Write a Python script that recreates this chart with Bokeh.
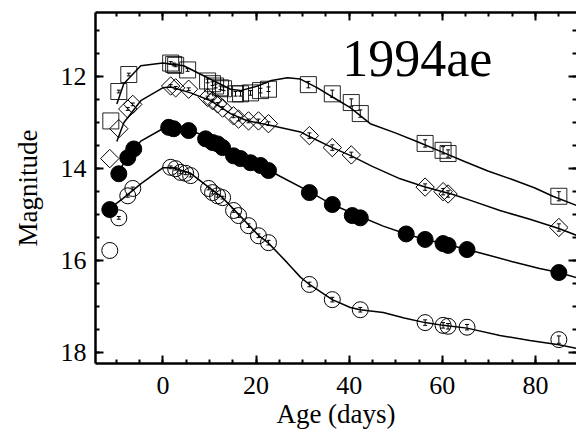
import numpy as np
from bokeh.plotting import figure
from bokeh.models import (Range1d, LinearAxis, SingleIntervalTicker, Label,
                          Whisker, ColumnDataSource, TeeHead)
from bokeh.embed import file_html
from bokeh.resources import INLINE

# ---------------- data ----------------
sq_age = [-11.21, -9.49, -7.35, 1.65, 2.29, 2.72, 5.29, 9.58, 10.65, 11.30, 12.37, 13.01,
          15.58, 16.66, 18.80, 20.94, 22.66, 31.23, 36.37, 40.45, 42.38, 56.31, 60.17, 61.24, 85.04]
sq_mag = [12.96, 12.32, 11.95, 11.70, 11.73, 11.75, 11.85, 12.09, 12.15, 12.20, 12.24, 12.26,
          12.37, 12.37, 12.35, 12.30, 12.27, 12.17, 12.37, 12.56, 12.80, 13.45, 13.60, 13.67, 14.60]
sq_err = [0.0, 0.03, 0.03, 0.03, 0.03, 0.03, 0.03, 0.04, 0.04, 0.04, 0.04, 0.04,
          0.05, 0.05, 0.05, 0.05, 0.05, 0.07, 0.08, 0.08, 0.08, 0.08, 0.08, 0.08, 0.10]

di_age = [-11.43, -9.49, -7.57, -6.49, 1.65, 2.72, 5.51, 9.58, 10.65, 11.73, 12.80, 15.16,
          16.23, 18.37, 20.51, 22.66, 31.45, 36.37, 40.45, 56.31, 60.17, 61.24, 85.04]
di_mag = [13.78, 13.13, 12.70, 12.60, 12.20, 12.24, 12.27, 12.45, 12.52, 12.59, 12.68, 12.85,
          12.92, 12.96, 12.96, 13.02, 13.28, 13.54, 13.70, 14.40, 14.50, 14.55, 15.28]
di_err = [0.0, 0.0, 0.03, 0.03, 0.03, 0.03, 0.03, 0.03, 0.03, 0.03, 0.03, 0.04,
          0.04, 0.04, 0.04, 0.04, 0.06, 0.06, 0.06, 0.07, 0.07, 0.07, 0.08]

fc_age = [-11.43, -9.49, -7.57, -6.28, 1.22, 2.29, 5.51, 9.15, 10.65, 11.73, 12.80, 15.16,
          16.66, 18.80, 20.94, 22.66, 31.45, 36.37, 40.66, 42.38, 52.24, 56.31, 60.17, 61.24,
          65.31, 85.04]
fc_mag = [14.89, 14.11, 13.76, 13.57, 13.10, 13.13, 13.17, 13.35, 13.43, 13.46, 13.54, 13.72,
          13.78, 13.87, 13.93, 14.04, 14.52, 14.78, 15.02, 15.07, 15.42, 15.54, 15.63, 15.67,
          15.76, 16.26]

oc_age = [-11.43, -9.49, -7.57, -6.49, 1.65, 2.72, 3.79, 4.87, 5.94, 9.80, 10.65, 11.73,
          12.80, 15.16, 16.23, 18.37, 20.51, 22.66, 31.45, 36.37, 42.38, 56.31, 60.17, 61.24,
          65.31, 85.04]
oc_mag = [15.78, 15.07, 14.59, 14.43, 13.97, 14.00, 14.08, 14.10, 14.15, 14.43, 14.52, 14.59,
          14.63, 14.91, 15.02, 15.24, 15.46, 15.61, 16.52, 16.85, 17.07, 17.35, 17.41, 17.43,
          17.45, 17.72]
oc_err = [0.0, 0.03, 0.03, 0.03, 0.03, 0.03, 0.03, 0.03, 0.03, 0.03, 0.03, 0.03,
          0.03, 0.04, 0.04, 0.04, 0.04, 0.05, 0.05, 0.05, 0.05, 0.06, 0.06, 0.06,
          0.06, 0.08]

# template fit curves
sq_fit_age = [-9.92, -8.42, -4.78, -0.06, 4.44, 9.58, 14.51, 16.66, 20.3, 23.3, 26.73, 29.52,
              33.16, 36.59, 40.23, 44.52, 49.9, 54.8, 60.0, 64.9, 69.8, 74.9, 79.9, 83.75, 88.83]
sq_fit_mag = [12.59, 12.15, 11.76, 11.70, 11.76, 12.02, 12.27, 12.30, 12.20, 12.08, 12.02, 12.05,
              12.24, 12.45, 12.67, 13.02, 13.22, 13.42, 13.64, 13.85, 14.05, 14.23, 14.42, 14.60, 14.80]

di_fit_age = [-9.92, -8.42, -4.78, -0.06, 1.65, 5.94, 10.22, 14.51, 17.94, 23.73, 29.52, 31.45,
              36.37, 40.45, 44.95, 50.95, 56.31, 62.31, 66.38, 72.39, 78.82, 85.04, 88.83]
di_fit_mag = [13.41, 13.00, 12.52, 12.24, 12.22, 12.35, 12.52, 12.80, 12.95, 13.07, 13.20, 13.30,
              13.54, 13.72, 13.95, 14.22, 14.40, 14.56, 14.70, 14.91, 15.10, 15.30, 15.45]

fc_fit_age = [-9.92, -7.57, -4.78, -0.06, 3.79, 8.08, 12.80, 16.66, 20.94, 25.23, 31.45, 36.37,
              42.38, 47.31, 52.24, 56.31, 60.17, 65.31, 69.8, 74.9, 80.9, 85.04, 88.83]
fc_fit_mag = [14.15, 13.72, 13.40, 13.13, 13.10, 13.25, 13.52, 13.78, 13.93, 14.17, 14.50, 14.78,
              15.04, 15.25, 15.42, 15.54, 15.63, 15.76, 15.88, 16.02, 16.17, 16.26, 16.37]

oc_fit_age = [-10.35, -8.64, -4.78, -0.06, 2.08, 5.94, 9.15, 12.80, 15.16, 18.37, 20.51, 22.66,
              26.73, 29.52, 31.45, 36.37, 40.23, 42.38, 47.31, 51.81, 56.31, 60.17, 65.31,
              72.39, 78.82, 85.04, 88.83]
oc_fit_mag = [14.78, 14.65, 14.33, 13.98, 13.98, 14.10, 14.35, 14.63, 14.88, 15.22, 15.45, 15.62,
              16.05, 16.36, 16.52, 16.85, 17.02, 17.07, 17.13, 17.25, 17.35, 17.41, 17.47,
              17.63, 17.74, 17.83, 17.91]

x_ticks_interval = 20
y_ticks_interval = 2
sn_name = "1994ae"

FONT = "Liberation Serif"

p = figure(width=576, height=439, x_range=Range1d(-14.5, 88.83), y_range=Range1d(18.24, 10.60),
           output_backend="svg", toolbar_location=None,
           min_border_left=95, min_border_right=0, min_border_top=12, min_border_bottom=76,
           x_axis_label="Age (days)", y_axis_label="Magnitude")
p.grid.visible = False
p.outline_line_color = None
p.background_fill_color = "white"
p.border_fill_color = "white"

xt = SingleIntervalTicker(interval=x_ticks_interval, num_minor_ticks=4)
yt = SingleIntervalTicker(interval=y_ticks_interval, num_minor_ticks=4)


def style(ax, show_labels):
    ax.axis_line_width = 2.5
    ax.axis_line_color = "black"
    ax.major_tick_in = 8
    ax.major_tick_out = 0
    ax.minor_tick_in = 4
    ax.minor_tick_out = 0
    ax.major_tick_line_width = 2
    ax.minor_tick_line_width = 2
    ax.major_tick_line_color = "black"
    ax.minor_tick_line_color = "black"
    if show_labels:
        ax.major_label_text_font = FONT
        ax.major_label_text_font_size = "26px"
        ax.major_label_text_color = "black"
        ax.axis_label_text_font = FONT
        ax.axis_label_text_font_size = "27px"
        ax.axis_label_text_font_style = "normal"
        ax.axis_label_text_color = "black"
    else:
        ax.major_label_text_font_size = "0px"
        ax.major_label_text_color = None
        ax.major_label_standoff = 0


xa = p.xaxis[0]
ya = p.yaxis[0]
xa.ticker = xt
ya.ticker = yt
style(xa, True)
style(ya, True)
xa.major_label_standoff = 13
xa.axis_label_standoff = 2
ya.major_label_standoff = 9
ya.axis_label_standoff = 15

top = LinearAxis(ticker=xt)
style(top, False)
p.add_layout(top, "above")
right = LinearAxis(ticker=yt)
style(right, False)
right.axis_line_color = None
p.add_layout(right, "right")

# curves
for fx, fy in [(sq_fit_age, sq_fit_mag), (di_fit_age, di_fit_mag),
               (fc_fit_age, fc_fit_mag), (oc_fit_age, oc_fit_mag)]:
    p.line(fx, fy, line_color="black", line_width=1.5)


def errbars(age, mag, err):
    a = np.array(age); m = np.array(mag); e = np.array(err)
    k = e > 0
    src = ColumnDataSource(dict(x=a[k], lo=m[k] - e[k], hi=m[k] + e[k]))
    w = Whisker(source=src, base="x", lower="lo", upper="hi", dimension="height",
                line_color="black", line_width=1,
                lower_head=TeeHead(size=4, line_width=1, line_color="black"),
                upper_head=TeeHead(size=4, line_width=1, line_color="black"))
    p.add_layout(w)


# markers
p.scatter(sq_age, sq_mag, marker="square", size=16, fill_color=None,
          line_color="black", line_width=1, line_alpha=0.85)
errbars(sq_age, sq_mag, sq_err)
p.scatter(di_age, di_mag, marker="square", angle=np.pi / 4, size=13, fill_color=None,
          line_color="black", line_width=1)
errbars(di_age, di_mag, di_err)
p.scatter(fc_age, fc_mag, marker="circle", size=16, fill_color="black", line_color="black")
p.scatter(oc_age, oc_mag, marker="circle", size=16, fill_color=None,
          line_color="black", line_width=1)
errbars(oc_age, oc_mag, oc_err)

p.add_layout(Label(x=38.5, y=11.61, text=sn_name, text_font=FONT, text_font_size="52px",
                   text_color="black", text_baseline="alphabetic", text_align="left"))

open("out.html", "w").write(file_html(p, INLINE))
